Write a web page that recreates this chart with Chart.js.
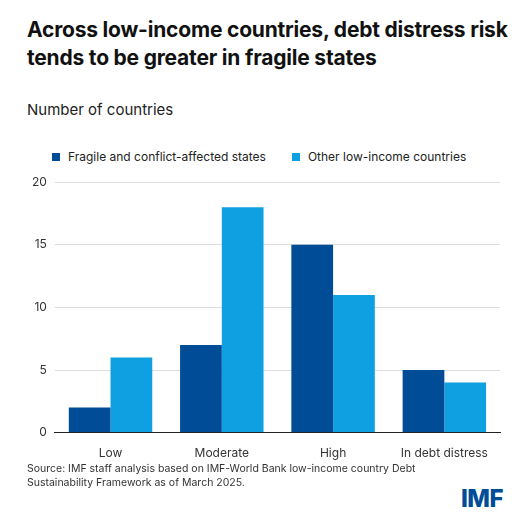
<!DOCTYPE html>
<html><head><meta charset="utf-8">
<script src="https://cdn.jsdelivr.net/npm/chart.js@4"></script>
<style>
body{margin:0;width:526px;height:526px;background:#fff;font-family:Inter,"Noto Sans",sans-serif;position:relative;overflow:hidden}
#t{position:absolute;left:27px;top:16px;font-size:21px;font-weight:700;line-height:28px;color:#111;letter-spacing:-0.2px}
#u{position:absolute;left:27px;top:100px;font-size:15px;color:#222}
#lg{position:absolute;left:52px;top:149px;font-size:12px;color:#222;display:flex;gap:26px}
#lg span i{display:inline-block;width:8px;height:8px;margin-right:8px;vertical-align:0}
#c{position:absolute;left:0;top:167px;width:526px;height:300px}
#s{position:absolute;left:27px;top:462px;font-size:10.5px;line-height:14px;color:#333}
#imf{position:absolute;left:461px;top:484px;font-size:24px;font-weight:800;color:#004c97;letter-spacing:-0.5px}
</style></head><body>
<div id="t">Across low-income countries, debt distress risk<br>tends to be greater in fragile states</div>
<div id="u">Number of countries</div>
<div id="lg"><span><i style="background:#004c97"></i>Fragile and conflict-affected states</span><span><i style="background:#0ea0e0"></i>Other low-income countries</span></div>
<div id="c"><canvas id="cv"></canvas></div>
<div id="s">Source: IMF staff analysis based on IMF-World Bank low-income country Debt<br>Sustainability Framework as of March 2025.</div>
<div id="imf">IMF</div>
<script>
const categories=["Low","Moderate","High","In debt distress"];
const fragile=[2,7,15,5];
const other=[6,18,11,4];
const seriesNames=["Fragile and conflict-affected states","Other low-income countries"];
new Chart(document.getElementById('cv'),{type:'bar',
data:{labels:categories,datasets:[
{label:seriesNames[0],data:fragile,backgroundColor:'#004c97'},
{label:seriesNames[1],data:other,backgroundColor:'#0ea0e0'}]},
options:{responsive:true,maintainAspectRatio:false,animation:false,
layout:{padding:{top:10,right:26,left:24,bottom:0}},
plugins:{legend:{display:false},tooltip:{enabled:false}},
datasets:{bar:{categoryPercentage:0.75,barPercentage:1}},
scales:{
x:{grid:{display:false},border:{color:'#222'},ticks:{color:'#333',font:{size:12,family:'Inter'},padding:6}},
y:{min:0,max:20,ticks:{stepSize:5,color:'#333',font:{size:12,family:'Inter'},padding:8},border:{display:false},grid:{color:'#ddd',tickLength:0}}
}}});
</script></body></html>
